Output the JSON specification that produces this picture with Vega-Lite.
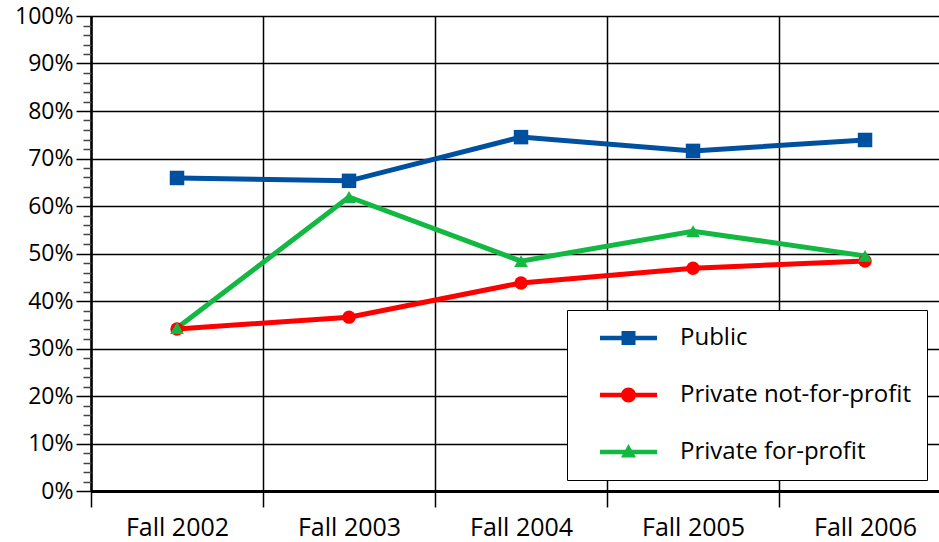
{
  "$schema": "https://vega.github.io/schema/vega-lite/v6.json",
  "width": 848,
  "height": 475,
  "autosize": "none",
  "padding": {"left": 91, "top": 16, "right": 0, "bottom": 51},
  "config": {
    "view": {"stroke": null},
    "font": "Open Sans"
  },
  "data": {
    "values": [
      {"year": 2002, "series": "Public", "value": 0.659},
      {"year": 2003, "series": "Public", "value": 0.653},
      {"year": 2004, "series": "Public", "value": 0.745},
      {"year": 2005, "series": "Public", "value": 0.716},
      {"year": 2006, "series": "Public", "value": 0.739},
      {"year": 2002, "series": "Private not-for-profit", "value": 0.341},
      {"year": 2003, "series": "Private not-for-profit", "value": 0.366},
      {"year": 2004, "series": "Private not-for-profit", "value": 0.438},
      {"year": 2005, "series": "Private not-for-profit", "value": 0.469},
      {"year": 2006, "series": "Private not-for-profit", "value": 0.484},
      {"year": 2002, "series": "Private for-profit", "value": 0.343},
      {"year": 2003, "series": "Private for-profit", "value": 0.619},
      {"year": 2004, "series": "Private for-profit", "value": 0.484},
      {"year": 2005, "series": "Private for-profit", "value": 0.547},
      {"year": 2006, "series": "Private for-profit", "value": 0.495}
    ]
  },
  "layer": [
    {
      "transform": [{"filter": "datum.series === 'Public'"}],
      "mark": {"type": "line", "strokeWidth": 5, "color": "#0050a0"},
      "encoding": {
        "x": {
          "field": "year", "type": "quantitative",
          "scale": {"domain": [2001.5, 2006.43], "nice": false, "zero": false},
          "axis": {
            "orient": "bottom",
            "values": [2002, 2003, 2004, 2005, 2006],
            "ticks": false, "grid": false,
            "domain": true, "domainWidth": 3, "domainColor": "black",
            "labelExpr": "'Fall ' + datum.value",
            "labelFontSize": 25, "labelPadding": 24, "labelColor": "black",
            "title": null
          }
        },
        "y": {
          "field": "value", "type": "quantitative",
          "scale": {"domain": [0, 1], "nice": false},
          "axis": {
            "orient": "left",
            "values": [0, 0.1, 0.2, 0.3, 0.4, 0.5, 0.6, 0.7, 0.8, 0.9, 1],
            "format": ".0%",
            "tickSize": 15, "tickColor": "black", "tickWidth": 1.5,
            "grid": true, "gridColor": "black", "gridWidth": 1.5,
            "domain": true, "domainWidth": 2.5, "domainColor": "black",
            "labelFontSize": 23, "labelColor": "black", "labelPadding": 3,
            "labelOverlap": false, "labelFlush": false,
            "title": null
          }
        }
      }
    },
    {
      "transform": [{"filter": "datum.series === 'Private not-for-profit'"}],
      "mark": {"type": "line", "strokeWidth": 5, "color": "#ff0000"},
      "encoding": {
        "x": {"field": "year", "type": "quantitative", "axis": null},
        "y": {"field": "value", "type": "quantitative", "axis": null}
      }
    },
    {
      "transform": [{"filter": "datum.series === 'Private for-profit'"}],
      "mark": {"type": "line", "strokeWidth": 5, "color": "#12b842"},
      "encoding": {
        "x": {"field": "year", "type": "quantitative", "axis": null},
        "y": {"field": "value", "type": "quantitative", "axis": null}
      }
    },
    {
      "mark": {"type": "point", "filled": true, "opacity": 0},
      "encoding": {
        "x": {"field": "year", "type": "quantitative", "axis": null},
        "y": {"field": "value", "type": "quantitative", "axis": null},
        "color": {
          "field": "series", "type": "nominal",
          "scale": {
            "domain": ["Public", "Private not-for-profit", "Private for-profit"],
            "range": ["#0050a0", "#ff0000", "#12b842"]
          },
          "legend": {
            "orient": "none", "legendX": 476, "legendY": 294, "title": null,
            "labelFontSize": 24, "labelColor": "black", "labelFont": "Open Sans", "labelLimit": 500,
            "symbolSize": 400, "symbolStrokeWidth": 0, "symbolOpacity": 1,
            "strokeColor": "black", "fillColor": "white",
            "padding": 16, "rowPadding": 33, "labelOffset": 73
          }
        },
        "shape": {
          "field": "series", "type": "nominal",
          "scale": {
            "domain": ["Public", "Private not-for-profit", "Private for-profit"],
            "range": [
              "M0.5,-0.22H6.2V0.22H0.5Z M2.65,-0.7H4.05V0.7H2.65Z",
              "M0.5,-0.22H6.2V0.22H0.5Z M2.6,0A0.75,0.75 0 1,1 4.1,0A0.75,0.75 0 1,1 2.6,0Z",
              "M0.5,-0.22H6.2V0.22H0.5Z M3.35,-0.8L4.1,0.55L2.6,0.55Z"
            ]
          },
          "legend": {
            "orient": "none", "legendX": 476, "legendY": 294, "title": null,
            "labelFontSize": 24, "labelColor": "black", "labelFont": "Open Sans", "labelLimit": 500,
            "symbolSize": 400, "symbolStrokeWidth": 0, "symbolOpacity": 1,
            "strokeColor": "black", "fillColor": "white",
            "padding": 16, "rowPadding": 33, "labelOffset": 73
          }
        }
      }
    },
    {
      "transform": [{"filter": "datum.series === 'Public'"}],
      "mark": {"type": "point", "shape": "square", "filled": true, "opacity": 1, "size": 210, "color": "#0050a0"},
      "encoding": {
        "x": {
          "field": "year", "type": "quantitative",
          "axis": {
            "orient": "bottom",
            "values": [2001.5, 2002.5, 2003.5, 2004.5, 2005.5],
            "labels": false, "domain": false,
            "tickSize": 16, "tickColor": "black", "tickWidth": 1.5,
            "grid": true, "gridColor": "black", "gridWidth": 1.5,
            "title": null
          }
        },
        "y": {
          "field": "value", "type": "quantitative",
          "axis": {
            "orient": "left",
            "values": [0.02, 0.04, 0.06, 0.08, 0.12, 0.14, 0.16, 0.18, 0.22, 0.24, 0.26, 0.28, 0.32, 0.34, 0.36, 0.38, 0.42, 0.44, 0.46, 0.48, 0.52, 0.54, 0.56, 0.58, 0.62, 0.64, 0.66, 0.68, 0.72, 0.74, 0.76, 0.78, 0.82, 0.84, 0.86, 0.88, 0.92, 0.94, 0.96, 0.98],
            "labels": false, "domain": false, "grid": false,
            "tickSize": 8, "tickColor": "#444444", "tickWidth": 1.5,
            "title": null
          }
        }
      }
    },
    {
      "transform": [{"filter": "datum.series === 'Private not-for-profit'"}],
      "mark": {"type": "point", "shape": "circle", "filled": true, "opacity": 1, "size": 180, "color": "#ff0000"},
      "encoding": {
        "x": {"field": "year", "type": "quantitative", "axis": null},
        "y": {"field": "value", "type": "quantitative", "axis": null}
      }
    },
    {
      "transform": [{"filter": "datum.series === 'Private for-profit'"}],
      "mark": {"type": "point", "shape": "triangle-up", "filled": true, "opacity": 1, "size": 190, "color": "#12b842"},
      "encoding": {
        "x": {"field": "year", "type": "quantitative", "axis": null},
        "y": {"field": "value", "type": "quantitative", "axis": null}
      }
    }
  ],
  "resolve": {"axis": {"x": "independent", "y": "independent"}}
}
